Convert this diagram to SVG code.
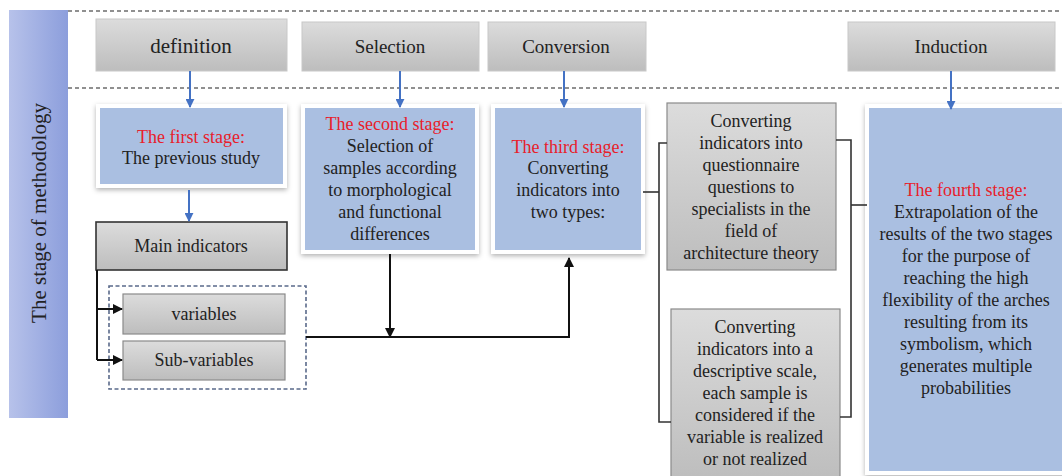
<svg xmlns="http://www.w3.org/2000/svg" width="1062" height="476" viewBox="0 0 1062 476">
<defs>
  <linearGradient id="gGray" x1="0" y1="0" x2="0" y2="1">
    <stop offset="0" stop-color="#dcdcdc"/>
    <stop offset="1" stop-color="#bdbdbd"/>
  </linearGradient>
  <linearGradient id="gBar" x1="0" y1="0" x2="1" y2="0">
    <stop offset="0" stop-color="#b7c2ea"/>
    <stop offset="1" stop-color="#8c9edc"/>
  </linearGradient>
  <filter id="sh" x="-10%" y="-10%" width="120%" height="125%">
    <feDropShadow dx="0" dy="2" stdDeviation="2.5" flood-color="#000" flood-opacity="0.3"/>
  </filter>
  <marker id="ab" viewBox="0 0 10 10" refX="9" refY="5" markerWidth="9" markerHeight="9" markerUnits="userSpaceOnUse" orient="auto">
    <path d="M0,0 L10,5 L0,10 z" fill="#4472c4"/>
  </marker>
  <marker id="ak" viewBox="0 0 10 10" refX="9" refY="5" markerWidth="10" markerHeight="10" markerUnits="userSpaceOnUse" orient="auto">
    <path d="M0,0 L10,5 L0,10 z" fill="#111"/>
  </marker>
  <style>
    text { font-family: "Liberation Serif", "Times New Roman", serif; fill: #222; text-anchor: middle; }
    .t { font-size: 18px; }
    .h { font-size: 19px; }
    .red { fill: #e8202a; }
    .top { fill: url(#gGray); stroke: #c8c8c8; stroke-width: 1; }
    .gray { fill: url(#gGray); stroke: #8a8a8a; stroke-width: 1.2; }
    .stage { fill: #aabfe1; stroke: #ffffff; stroke-width: 4; filter: url(#sh); }
    .dash { stroke: #222; stroke-width: 1.2; stroke-dasharray: 4 3; fill: none; }
    .blue { stroke: #4472c4; stroke-width: 2; fill: none; marker-end: url(#ab); }
    .blk { stroke: #111; stroke-width: 2; fill: none; }
    .blka { stroke: #111; stroke-width: 2; fill: none; marker-end: url(#ak); }
    .brk { stroke: #333; stroke-width: 1.6; fill: none; }
  </style>
</defs>
<rect width="1062" height="476" fill="#ffffff"/>

<g id="sidebar">
  <rect x="9" y="10" width="59" height="408" fill="url(#gBar)"/>
  <text transform="rotate(-90)" x="-213" y="46" style="font-size:21px">The stage of methodology</text>
</g>

<g id="guides">
  <line class="dash" x1="68" y1="11" x2="1062" y2="11"/>
  <line class="dash" x1="68" y1="88" x2="1062" y2="88"/>
</g>

<g id="definition">
  <rect class="top" x="96" y="19" width="191" height="52"/>
  <text x="191" y="53" style="font-size:21px">definition</text>
</g>
<g id="selection">
  <rect class="top" x="302" y="22" width="177" height="49"/>
  <text class="h" x="390" y="53">Selection</text>
</g>
<g id="conversion">
  <rect class="top" x="488" y="22" width="158" height="49"/>
  <text class="h" x="566" y="53">Conversion</text>
</g>
<g id="induction">
  <rect class="top" x="848" y="22" width="207" height="49"/>
  <text class="h" x="951" y="53">Induction</text>
</g>

<g id="stage1">
  <rect class="stage" x="98" y="106" width="187" height="80"/>
  <text class="t red" x="191" y="143">The first stage:</text>
  <text class="t" x="191" y="164">The previous study</text>
</g>
<g id="stage2">
  <rect class="stage" x="303" y="106" width="174" height="146"/>
  <text class="t red" x="390" y="130">The second stage:</text>
  <text class="t" x="390" y="152">Selection of</text>
  <text class="t" x="390" y="174">samples according</text>
  <text class="t" x="390" y="196">to morphological</text>
  <text class="t" x="390" y="218">and functional</text>
  <text class="t" x="390" y="240">differences</text>
</g>
<g id="stage3">
  <rect class="stage" x="493" y="106" width="150" height="146"/>
  <text class="t red" x="568" y="153">The third stage:</text>
  <text class="t" x="568" y="174">Converting</text>
  <text class="t" x="568" y="196">indicators into</text>
  <text class="t" x="568" y="218">two types:</text>
</g>
<g id="stage4">
  <rect class="stage" x="867" y="106" width="199" height="367"/>
  <text class="t red" x="966" y="196">The fourth stage:</text>
  <text class="t" x="966" y="218">Extrapolation of the</text>
  <text class="t" x="966" y="240">results of the two stages</text>
  <text class="t" x="966" y="262">for the purpose of</text>
  <text class="t" x="966" y="284">reaching the high</text>
  <text class="t" x="966" y="306">flexibility of the arches</text>
  <text class="t" x="966" y="328">resulting from its</text>
  <text class="t" x="966" y="350">symbolism, which</text>
  <text class="t" x="966" y="372">generates multiple</text>
  <text class="t" x="966" y="394">probabilities</text>
</g>

<g id="main-indicators">
  <rect x="96" y="222" width="191" height="48" fill="url(#gGray)" stroke="#333" stroke-width="1.6"/>
  <text class="t" x="191" y="252">Main indicators</text>
</g>
<g id="variable-group">
  <rect x="109" y="286" width="197" height="103" fill="none" stroke="#5a6a8a" stroke-width="1.6" stroke-dasharray="4 2.5"/>
</g>
<g id="variables">
  <rect class="gray" x="123" y="294" width="162" height="40"/>
  <text class="t" x="204" y="320">variables</text>
</g>
<g id="sub-variables">
  <rect class="gray" x="123" y="341" width="162" height="39"/>
  <text class="t" x="204" y="366">Sub-variables</text>
</g>

<g id="type1">
  <rect class="gray" x="667" y="103" width="169" height="167"/>
  <text class="t" x="751" y="127">Converting</text>
  <text class="t" x="751" y="149">indicators into</text>
  <text class="t" x="751" y="171">questionnaire</text>
  <text class="t" x="751" y="193">questions to</text>
  <text class="t" x="751" y="215">specialists in the</text>
  <text class="t" x="751" y="237">field of</text>
  <text class="t" x="751" y="259">architecture theory</text>
</g>
<g id="type2">
  <rect class="gray" x="671" y="309" width="169" height="172"/>
  <text class="t" x="755" y="333">Converting</text>
  <text class="t" x="755" y="355">indicators into a</text>
  <text class="t" x="755" y="377">descriptive scale,</text>
  <text class="t" x="755" y="399">each sample is</text>
  <text class="t" x="755" y="421">considered if the</text>
  <text class="t" x="755" y="443">variable is realized</text>
  <text class="t" x="755" y="465">or not realized</text>
</g>

<g id="connectors">
  <line class="blue" x1="190" y1="71" x2="190" y2="107"/>
  <line class="blue" x1="400" y1="71" x2="400" y2="107"/>
  <line class="blue" x1="564" y1="71" x2="564" y2="107"/>
  <line class="blue" x1="951" y1="71" x2="951" y2="109"/>
  <line class="blue" x1="189" y1="190" x2="189" y2="221"/>

  <path class="blk" d="M97,270 V360"/>
  <path class="blka" d="M97,309 H122"/>
  <path class="blka" d="M97,360 H122"/>

  <path class="blka" d="M390,254 V337"/>
  <path class="blka" d="M306,337 H569 V258"/>

  <path class="brk" d="M643,192 H659"/>
  <path class="brk" d="M667,143 H659 V422 H671"/>
  <path class="brk" d="M836,140 H851 V417 H840"/>
  <path class="brk" d="M851,205 H867"/>
</g>
</svg>
